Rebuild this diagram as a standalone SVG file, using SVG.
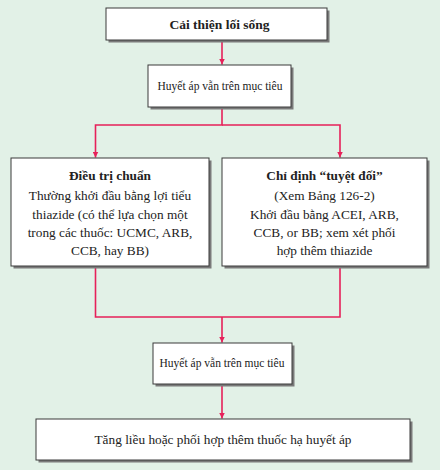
<svg xmlns="http://www.w3.org/2000/svg" width="440" height="470" viewBox="0 0 440 470">
<defs>
<marker id="ah" viewBox="0 0 10 10" refX="10" refY="5" markerWidth="6" markerHeight="6" markerUnits="userSpaceOnUse" orient="auto">
<path d="M0,0 L10,5 L0,10 z" fill="#e6215a"/>
</marker>
</defs>
<style>
.box{fill:#ffffff;stroke:#3a3a3a;stroke-width:1}
.sh{fill:#7a7a7a}
.t{font-family:"Liberation Serif","DejaVu Serif",serif;fill:#222;text-anchor:middle}
.b{font-weight:bold}
.c{fill:none;stroke:#e6215a;stroke-width:1.6}
</style>
<rect width="440" height="470" fill="#e2f1e7"/>
<g id="connectors">
<path class="c" d="M222,40 V64.5" marker-end="url(#ah)"/>
<path class="c" d="M222,107 V125 H95.5 V157.5" marker-end="url(#ah)"/>
<path class="c" d="M222,125 H340 V157.5" marker-end="url(#ah)"/>
<path class="c" d="M95.5,266 V317 H340 V266"/>
<path class="c" d="M222,317 V342.5" marker-end="url(#ah)"/>
<path class="c" d="M222,384 V418.5" marker-end="url(#ah)"/>
</g>
<g id="n1">
<rect class="sh" x="108.5" y="10.5" width="221" height="32"/>
<rect class="box" x="106" y="8" width="221" height="32"/>
<text class="t b" x="219.5" y="29" font-size="13.5">Cải thiện lối sống</text>
</g>
<g id="n2">
<rect class="sh" x="150.5" y="67.5" width="143" height="42"/>
<rect class="box" x="148" y="65" width="143" height="42"/>
<text class="t" x="220" y="90" font-size="11.5">Huyết áp vẫn trên mục tiêu</text>
</g>
<g id="n3">
<rect class="sh" x="13.5" y="160.5" width="198" height="108"/>
<rect class="box" x="11" y="158" width="198" height="108"/>
<text class="t b" x="110" y="180" font-size="13.3">Điều trị chuẩn</text>
<text class="t" x="110" y="200" font-size="13.3">Thường khởi đầu bằng lợi tiểu</text>
<text class="t" x="110" y="219" font-size="13.3">thiazide (có thể lựa chọn một</text>
<text class="t" x="110" y="237" font-size="13.3">trong các thuốc: UCMC, ARB,</text>
<text class="t" x="110" y="255" font-size="13.3">CCB, hay BB)</text>
</g>
<g id="n4">
<rect class="sh" x="224.5" y="160.5" width="205" height="108"/>
<rect class="box" x="222" y="158" width="205" height="108"/>
<text class="t b" x="324.5" y="180" font-size="13.3">Chỉ định “tuyệt đối”</text>
<text class="t" x="324.5" y="200" font-size="13.3">(Xem Bảng 126-2)</text>
<text class="t" x="324.5" y="219" font-size="13.3">Khởi đầu bằng ACEI, ARB,</text>
<text class="t" x="324.5" y="237" font-size="13.3">CCB, or BB; xem xét phối</text>
<text class="t" x="324.5" y="255" font-size="13.3">hợp thêm thiazide</text>
</g>
<g id="n5">
<rect class="sh" x="155.5" y="345.5" width="139" height="41"/>
<rect class="box" x="153" y="343" width="139" height="41"/>
<text class="t" x="222" y="367" font-size="11.5">Huyết áp vẫn trên mục tiêu</text>
</g>
<g id="n6">
<rect class="sh" x="38.5" y="421.5" width="374" height="41"/>
<rect class="box" x="36" y="419" width="374" height="41"/>
<text class="t" x="223" y="444" font-size="13.3">Tăng liều hoặc phối hợp thêm thuốc hạ huyết áp</text>
</g>
</svg>
